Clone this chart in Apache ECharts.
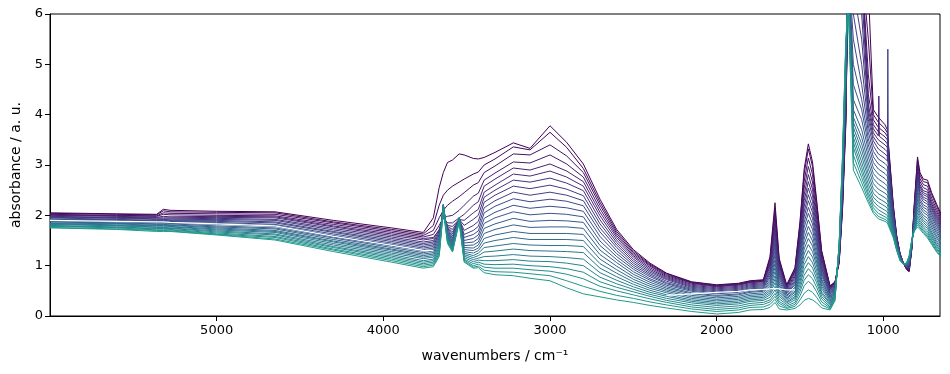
<!DOCTYPE html>
<html><head><meta charset="utf-8">
<script src="https://cdn.jsdelivr.net/npm/echarts@6/dist/echarts.min.js"></script>
<style>html,body{margin:0;padding:0;background:#fff}#c{width:950px;height:374px}</style>
</head><body><div id="c"></div>
<script>
// x positions shared by all spectra (cm^-1)
const wavenumbers = [6000,5600,5360,5320,5280,5000,4650,4300,3950,3760,3700,3665,3640,3615,3585,3545,3515,3460,3430,3395,3330,3220,3120,3000,2900,2800,2700,2600,2500,2400,2300,2150,2000,1870,1800,1720,1680,1650,1625,1580,1530,1500,1475,1450,1425,1400,1370,1320,1290,1265,1245,1225,1210,1180,1130,1090,1060,1030,1027,1024,990,976,973,970,940,920,900,880,860,845,830,815,795,780,760,735,710,680,650];
// one row per wavenumber, one column per spectrum (0 = first / darkest ... 23 = last / teal)
const absorbance = [
[2.05,2.04,2.02,2.01,2.00,1.98,1.97,1.96,1.95,1.93,1.92,1.91,1.89,1.88,1.87,1.85,1.84,1.83,1.82,1.80,1.79,1.78,1.76,1.75],
[2.03,2.02,2.00,1.99,1.98,1.96,1.95,1.94,1.92,1.91,1.90,1.88,1.87,1.85,1.84,1.83,1.81,1.80,1.79,1.77,1.76,1.75,1.73,1.72],
[2.02,2.01,1.99,1.98,1.96,1.95,1.93,1.92,1.90,1.89,1.88,1.86,1.85,1.83,1.82,1.80,1.79,1.77,1.76,1.74,1.73,1.71,1.70,1.68],
[2.12,2.09,2.05,2.02,1.98,1.95,1.93,1.92,1.90,1.89,1.88,1.86,1.85,1.83,1.82,1.80,1.79,1.77,1.76,1.74,1.73,1.71,1.70,1.68],
[2.10,2.07,2.04,2.01,1.97,1.95,1.93,1.91,1.90,1.88,1.87,1.86,1.84,1.83,1.81,1.80,1.78,1.77,1.75,1.74,1.72,1.71,1.69,1.68],
[2.08,2.06,2.03,2.00,1.98,1.96,1.94,1.92,1.90,1.88,1.86,1.84,1.82,1.79,1.77,1.75,1.73,1.71,1.69,1.67,1.65,1.63,1.62,1.61],
[2.07,2.05,2.02,1.99,1.97,1.95,1.92,1.90,1.87,1.85,1.82,1.80,1.78,1.75,1.73,1.70,1.68,1.66,1.63,1.61,1.58,1.56,1.53,1.51],
[1.90,1.87,1.85,1.82,1.79,1.77,1.74,1.71,1.68,1.66,1.63,1.60,1.57,1.55,1.52,1.49,1.47,1.44,1.41,1.38,1.36,1.33,1.31,1.28],
[1.75,1.72,1.69,1.66,1.63,1.60,1.57,1.54,1.51,1.48,1.45,1.42,1.39,1.36,1.33,1.31,1.28,1.25,1.22,1.19,1.16,1.13,1.10,1.07],
[1.66,1.63,1.60,1.57,1.54,1.51,1.47,1.44,1.41,1.38,1.35,1.32,1.29,1.26,1.23,1.20,1.17,1.14,1.10,1.07,1.04,1.01,0.98,0.95],
[1.95,1.80,1.70,1.62,1.56,1.54,1.50,1.47,1.44,1.41,1.38,1.35,1.32,1.29,1.26,1.23,1.20,1.17,1.13,1.10,1.07,1.04,1.01,0.98],
[2.55,2.20,1.95,1.80,1.70,1.72,1.68,1.65,1.62,1.60,1.57,1.54,1.51,1.48,1.45,1.42,1.39,1.36,1.33,1.30,1.27,1.24,1.21,1.18],
[2.85,2.40,2.10,1.95,1.95,2.00,2.02,2.05,2.07,2.10,2.12,2.14,2.16,2.18,2.20,2.21,2.22,2.22,2.21,2.20,2.18,2.15,2.12,2.08],
[3.05,2.50,2.20,1.98,1.85,1.80,1.78,1.76,1.74,1.72,1.70,1.68,1.66,1.64,1.62,1.60,1.58,1.56,1.54,1.52,1.50,1.48,1.46,1.44],
[3.10,2.58,2.28,2.00,1.85,1.78,1.72,1.67,1.63,1.59,1.55,1.52,1.49,1.46,1.43,1.41,1.39,1.37,1.35,1.33,1.31,1.30,1.28,1.27],
[3.22,2.66,2.37,2.10,1.95,1.92,1.92,1.92,1.93,1.93,1.94,1.94,1.95,1.95,1.95,1.95,1.95,1.95,1.94,1.93,1.92,1.90,1.88,1.86],
[3.20,2.72,2.45,2.20,2.02,1.90,1.80,1.70,1.62,1.56,1.50,1.45,1.40,1.36,1.32,1.28,1.25,1.22,1.19,1.16,1.13,1.11,1.09,1.07],
[3.13,2.82,2.60,2.38,2.20,2.05,1.92,1.80,1.70,1.62,1.54,1.47,1.41,1.35,1.30,1.25,1.20,1.16,1.12,1.08,1.04,1.00,0.97,0.95],
[3.12,2.86,2.65,2.44,2.27,2.12,2.00,1.88,1.78,1.69,1.61,1.54,1.47,1.41,1.35,1.30,1.25,1.20,1.15,1.11,1.07,1.03,0.99,0.96],
[3.15,3.00,2.85,2.70,2.58,2.46,2.36,2.26,2.15,2.05,1.94,1.84,1.74,1.64,1.54,1.45,1.36,1.27,1.18,1.10,1.03,0.97,0.91,0.86],
[3.25,3.12,2.98,2.84,2.72,2.60,2.50,2.40,2.29,2.18,2.06,1.95,1.83,1.72,1.61,1.50,1.39,1.29,1.19,1.10,1.02,0.95,0.88,0.82],
[3.44,3.36,3.22,3.06,2.94,2.82,2.70,2.58,2.46,2.33,2.20,2.07,1.94,1.81,1.68,1.56,1.44,1.33,1.22,1.12,1.03,0.95,0.87,0.80],
[3.33,3.30,3.20,3.04,2.90,2.78,2.66,2.53,2.40,2.27,2.14,2.01,1.88,1.76,1.64,1.52,1.41,1.30,1.19,1.09,1.00,0.92,0.84,0.75],
[3.78,3.65,3.40,3.20,3.02,2.88,2.74,2.60,2.46,2.32,2.18,2.04,1.90,1.77,1.64,1.52,1.40,1.29,1.18,1.08,0.98,0.89,0.80,0.70],
[3.45,3.35,3.18,3.02,2.88,2.76,2.64,2.52,2.40,2.28,2.15,2.02,1.89,1.77,1.64,1.52,1.40,1.28,1.16,1.05,0.94,0.83,0.70,0.56],
[3.02,2.93,2.85,2.76,2.67,2.58,2.49,2.39,2.29,2.19,2.08,1.97,1.86,1.74,1.62,1.50,1.38,1.26,1.13,1.00,0.87,0.74,0.59,0.44],
[2.32,2.26,2.20,2.13,2.06,1.99,1.91,1.83,1.75,1.67,1.58,1.49,1.40,1.31,1.22,1.13,1.04,0.95,0.86,0.77,0.68,0.59,0.49,0.38],
[1.72,1.68,1.64,1.60,1.56,1.51,1.46,1.41,1.36,1.30,1.24,1.18,1.12,1.06,0.99,0.92,0.85,0.78,0.71,0.64,0.57,0.50,0.41,0.32],
[1.32,1.29,1.26,1.23,1.20,1.17,1.13,1.09,1.05,1.01,0.97,0.93,0.88,0.83,0.78,0.73,0.68,0.63,0.58,0.53,0.48,0.42,0.35,0.27],
[1.05,1.03,1.01,0.99,0.96,0.93,0.90,0.87,0.84,0.81,0.78,0.74,0.71,0.67,0.63,0.59,0.55,0.51,0.47,0.43,0.39,0.34,0.28,0.21],
[0.85,0.84,0.82,0.80,0.78,0.76,0.74,0.72,0.69,0.66,0.64,0.61,0.58,0.55,0.52,0.49,0.46,0.42,0.39,0.35,0.31,0.27,0.22,0.16],
[0.68,0.67,0.66,0.65,0.63,0.61,0.59,0.57,0.55,0.53,0.51,0.49,0.46,0.44,0.41,0.38,0.35,0.32,0.29,0.26,0.22,0.18,0.14,0.09],
[0.62,0.61,0.60,0.59,0.58,0.56,0.54,0.52,0.50,0.48,0.46,0.44,0.41,0.39,0.36,0.33,0.30,0.27,0.24,0.21,0.17,0.13,0.09,0.04],
[0.65,0.64,0.63,0.62,0.61,0.59,0.57,0.55,0.53,0.51,0.49,0.47,0.44,0.42,0.39,0.36,0.33,0.30,0.27,0.24,0.20,0.16,0.12,0.07],
[0.70,0.69,0.68,0.67,0.66,0.64,0.62,0.60,0.58,0.56,0.54,0.52,0.49,0.47,0.44,0.41,0.38,0.35,0.32,0.29,0.25,0.21,0.17,0.12],
[0.72,0.71,0.70,0.69,0.68,0.66,0.64,0.62,0.60,0.58,0.56,0.54,0.51,0.49,0.46,0.43,0.40,0.37,0.34,0.31,0.27,0.23,0.18,0.13],
[1.18,1.14,1.09,1.05,1.01,0.97,0.92,0.88,0.84,0.80,0.76,0.71,0.67,0.63,0.59,0.54,0.50,0.46,0.42,0.37,0.32,0.28,0.23,0.17],
[2.25,2.13,2.00,1.89,1.78,1.68,1.58,1.48,1.39,1.30,1.21,1.12,1.04,0.96,0.88,0.80,0.73,0.66,0.59,0.52,0.45,0.39,0.33,0.27],
[1.15,1.11,1.06,1.02,0.98,0.94,0.89,0.85,0.81,0.77,0.73,0.68,0.64,0.60,0.56,0.51,0.47,0.43,0.39,0.34,0.29,0.25,0.20,0.14],
[0.62,0.61,0.60,0.59,0.58,0.56,0.54,0.52,0.50,0.48,0.46,0.44,0.41,0.39,0.36,0.34,0.31,0.28,0.26,0.23,0.20,0.17,0.15,0.12],
[0.96,0.94,0.90,0.88,0.85,0.81,0.78,0.75,0.71,0.68,0.65,0.62,0.57,0.54,0.50,0.47,0.43,0.39,0.36,0.32,0.27,0.23,0.19,0.15],
[1.88,1.83,1.74,1.66,1.58,1.51,1.44,1.37,1.31,1.24,1.17,1.10,1.03,0.96,0.89,0.83,0.76,0.69,0.62,0.55,0.48,0.40,0.32,0.22],
[2.92,2.83,2.68,2.54,2.41,2.29,2.18,2.07,1.97,1.86,1.76,1.65,1.53,1.43,1.33,1.23,1.12,1.02,0.92,0.81,0.71,0.60,0.45,0.31],
[3.42,3.32,3.14,2.97,2.81,2.67,2.54,2.41,2.29,2.16,2.04,1.91,1.78,1.66,1.54,1.42,1.30,1.18,1.06,0.94,0.82,0.69,0.52,0.35],
[3.06,2.97,2.81,2.66,2.52,2.40,2.28,2.16,2.06,1.94,1.83,1.72,1.60,1.49,1.39,1.28,1.17,1.06,0.96,0.85,0.74,0.62,0.47,0.32],
[2.30,2.24,2.12,2.02,1.92,1.83,1.74,1.65,1.57,1.49,1.41,1.32,1.23,1.15,1.07,0.99,0.90,0.82,0.74,0.66,0.57,0.48,0.37,0.26],
[1.30,1.27,1.22,1.17,1.12,1.07,1.02,0.97,0.93,0.88,0.84,0.79,0.73,0.69,0.64,0.59,0.54,0.48,0.44,0.39,0.34,0.28,0.22,0.16],
[0.60,0.59,0.58,0.57,0.56,0.54,0.52,0.50,0.48,0.46,0.44,0.42,0.39,0.37,0.34,0.32,0.29,0.26,0.24,0.21,0.18,0.16,0.14,0.12],
[0.68,0.67,0.66,0.65,0.64,0.63,0.62,0.61,0.60,0.58,0.57,0.55,0.53,0.51,0.49,0.47,0.45,0.43,0.41,0.39,0.37,0.35,0.33,0.30],
[1.05,1.07,1.08,1.10,1.12,1.14,1.15,1.17,1.19,1.21,1.22,1.24,1.26,1.28,1.29,1.31,1.33,1.35,1.36,1.38,1.40,1.42,1.43,1.45],
[2.10,2.15,2.20,2.24,2.29,2.34,2.39,2.43,2.48,2.53,2.58,2.62,2.67,2.72,2.77,2.81,2.86,2.91,2.96,3.01,3.05,3.10,3.15,3.20],
[3.80,3.88,3.95,4.02,4.10,4.18,4.25,4.33,4.40,4.48,4.55,4.62,4.70,4.78,4.85,4.92,5.00,5.08,5.15,5.22,5.30,5.38,5.45,5.50],
[7.0,7.0,7.0,7.0,7.0,7.0,7.0,7.0,7.0,7.0,7.0,7.0,7.0,7.0,7.0,7.0,6.8,6.6,6.5,6.4,6.3,6.3,6.2,6.2],
[7.0,7.0,7.0,7.0,7.0,7.0,6.8,6.5,6.0,5.5,5.0,4.6,4.3,4.1,3.95,3.85,3.75,3.65,3.55,3.45,3.35,3.2,3.05,2.9],
[7.0,7.0,7.0,7.0,7.0,6.5,6.0,5.5,5.0,4.6,4.3,4.1,3.9,3.7,3.55,3.42,3.3,3.18,3.06,2.95,2.85,2.75,2.65,2.55],
[6.5,5.5,4.8,4.4,4.2,4.1,4.0,3.9,3.78,3.65,3.52,3.4,3.28,3.16,3.04,2.93,2.82,2.72,2.62,2.53,2.45,2.38,2.31,2.25],
[4.10,4.00,3.90,3.80,3.72,3.64,3.56,3.48,3.38,3.27,3.16,3.05,2.94,2.83,2.73,2.63,2.53,2.44,2.36,2.28,2.21,2.15,2.09,2.04],
[3.95,3.85,3.75,3.66,3.58,3.50,3.41,3.32,3.22,3.12,3.02,2.92,2.82,2.72,2.62,2.52,2.43,2.34,2.26,2.18,2.11,2.04,1.98,1.93],
[3.95,3.85,3.75,3.66,4.37,3.50,3.41,3.32,3.22,3.12,3.02,2.92,2.82,2.72,2.62,2.52,2.43,2.34,2.26,2.18,2.11,2.04,1.98,1.93],
[3.94,3.84,3.74,3.65,3.57,3.49,3.40,3.31,3.21,3.11,3.01,2.91,2.81,2.71,2.61,2.51,2.42,2.33,2.25,2.17,2.10,2.03,1.97,1.92],
[3.80,3.72,3.64,3.56,3.48,3.40,3.31,3.22,3.13,3.03,2.93,2.83,2.73,2.63,2.53,2.44,2.35,2.26,2.18,2.10,2.03,1.97,1.92,1.88],
[3.70,3.64,3.57,3.50,3.42,3.35,3.26,3.17,3.08,2.98,2.88,2.78,2.68,2.58,2.49,2.40,2.31,2.22,2.14,2.07,2.00,1.94,1.89,1.85],
[3.70,3.64,3.57,3.50,3.42,3.35,3.26,3.17,5.30,2.98,2.88,2.78,2.68,2.58,2.49,2.40,2.31,2.22,2.14,2.07,2.00,1.94,1.89,1.85],
[3.68,3.62,3.55,3.48,3.40,3.33,3.24,3.15,3.06,2.96,2.86,2.76,2.66,2.56,2.47,2.38,2.29,2.20,2.12,2.05,1.98,1.92,1.87,1.83],
[2.20,2.17,2.14,2.11,2.08,2.05,2.03,2.00,1.97,1.94,1.91,1.88,1.85,1.82,1.79,1.76,1.73,1.70,1.67,1.64,1.61,1.59,1.57,1.55],
[1.60,1.59,1.57,1.56,1.55,1.53,1.52,1.51,1.49,1.48,1.47,1.46,1.44,1.43,1.42,1.40,1.39,1.38,1.36,1.35,1.34,1.32,1.31,1.30],
[1.25,1.24,1.24,1.23,1.22,1.22,1.21,1.21,1.20,1.19,1.19,1.18,1.17,1.17,1.16,1.15,1.15,1.14,1.13,1.13,1.12,1.11,1.11,1.10],
[1.05,1.05,1.05,1.05,1.05,1.05,1.04,1.04,1.04,1.04,1.04,1.04,1.04,1.04,1.04,1.04,1.03,1.03,1.03,1.03,1.03,1.03,1.03,1.03],
[0.92,0.93,0.93,0.94,0.94,0.95,0.96,0.96,0.97,0.97,0.98,0.99,0.99,1.00,1.00,1.01,1.02,1.02,1.03,1.03,1.04,1.05,1.05,1.06],
[0.88,0.89,0.91,0.92,0.94,0.95,0.96,0.98,0.99,1.01,1.02,1.03,1.05,1.06,1.08,1.09,1.10,1.12,1.13,1.15,1.16,1.17,1.19,1.20],
[1.30,1.31,1.32,1.33,1.33,1.34,1.35,1.36,1.37,1.38,1.39,1.40,1.40,1.41,1.42,1.43,1.44,1.45,1.46,1.47,1.47,1.48,1.49,1.50],
[2.20,2.16,2.12,2.08,2.05,2.02,1.99,1.96,1.93,1.90,1.88,1.86,1.84,1.82,1.80,1.78,1.76,1.75,1.74,1.72,1.71,1.70,1.69,1.68],
[3.16,3.10,3.01,2.94,2.86,2.81,2.76,2.70,2.64,2.58,2.51,2.44,2.37,2.31,2.24,2.17,2.11,2.05,1.99,1.94,1.89,1.85,1.81,1.77],
[2.85,2.80,2.73,2.67,2.61,2.57,2.52,2.47,2.43,2.38,2.32,2.27,2.21,2.16,2.10,2.05,2.00,1.95,1.90,1.86,1.82,1.78,1.75,1.72],
[2.72,2.67,2.61,2.55,2.49,2.45,2.41,2.36,2.32,2.27,2.21,2.16,2.11,2.06,2.00,1.95,1.90,1.86,1.81,1.77,1.73,1.70,1.67,1.64],
[2.70,2.65,2.58,2.51,2.46,2.41,2.37,2.32,2.27,2.22,2.16,2.11,2.05,2.00,1.94,1.88,1.83,1.78,1.74,1.69,1.65,1.61,1.58,1.55],
[2.45,2.41,2.34,2.28,2.23,2.19,2.15,2.11,2.06,2.02,1.97,1.92,1.87,1.82,1.77,1.72,1.67,1.63,1.59,1.55,1.51,1.48,1.45,1.42],
[2.22,2.18,2.12,2.07,2.02,1.98,1.94,1.90,1.86,1.82,1.78,1.73,1.68,1.64,1.59,1.55,1.50,1.46,1.42,1.39,1.35,1.32,1.29,1.27],
[2.00,1.96,1.91,1.86,1.82,1.79,1.75,1.72,1.68,1.64,1.60,1.56,1.52,1.48,1.43,1.40,1.36,1.32,1.29,1.25,1.22,1.20,1.17,1.15]
];
// the white trace visible through the bundle (two visible stretches)
const whiteWavenumbersA = [6000,5600,5360,5320,5280,5000,4650,4300,3950,3760,3700];
const whiteValuesA = [1.90,1.88,1.87,1.87,1.86,1.83,1.79,1.585,1.405,1.305,1.30];
const whiteWavenumbersB = [2300,2150,2000,1870,1800,1720,1680,1650,1625,1580,1530];
const whiteValuesB = [0.41,0.44,0.47,0.49,0.52,0.53,0.54,0.55,0.54,0.52,0.52];
const xTickValues = [5000,4000,3000,2000,1000];
const xRange = [660, 6000];
const yRange = [0, 6];

const viridisStops = ['#440154','#482475','#414487','#355f8d','#2a788e','#21918c','#22a884','#44bf70','#7ad151','#bddf26','#fde725'];
function hexToRgb(h){return [parseInt(h.slice(1,3),16),parseInt(h.slice(3,5),16),parseInt(h.slice(5,7),16)];}
function viridis(t){
  const n = viridisStops.length - 1;
  const x = Math.max(0, Math.min(1, t)) * n;
  const i = Math.min(Math.floor(x), n - 1);
  const f = x - i;
  const a = hexToRgb(viridisStops[i]), b = hexToRgb(viridisStops[i+1]);
  const c = a.map((v,k)=>Math.round(v + (b[k]-v)*f));
  return 'rgb(' + c.join(',') + ')';
}

const nSpectra = absorbance[0].length;
const series = [];
for (let j = 0; j < nSpectra; j++) {
  series.push({
    type: 'line', symbol: 'none', showSymbol: false, silent: true, clip: true,
    animation: false,
    lineStyle: {width: 1, color: viridis(0.54 * j / (nSpectra - 1))},
    data: wavenumbers.map((w, i) => [w, absorbance[i][j]])
  });
}
[[whiteWavenumbersA, whiteValuesA], [whiteWavenumbersB, whiteValuesB]].forEach(([ws, vs]) => {
  series.push({
    type: 'line', symbol: 'none', showSymbol: false, silent: true, clip: true,
    animation: false,
    lineStyle: {width: 1.2, color: '#ffffff'},
    data: ws.map((w, i) => [w, vs[i]])
  });
});

const font = 'DejaVu Sans';
const chart = echarts.init(document.getElementById('c'), null, {renderer: 'canvas'});
chart.setOption({
  backgroundColor: '#ffffff',
  animation: false,
  grid: {left: 50, right: 10, top: 14, bottom: 58, show: true, borderColor: '#000', borderWidth: 1, backgroundColor: 'transparent'},
  xAxis: {
    type: 'value', inverse: true, min: xRange[0], max: xRange[1],
    name: 'wavenumbers / cm⁻¹', nameLocation: 'middle', nameGap: 33,
    nameTextStyle: {fontFamily: font, fontSize: 14, color: '#000'},
    axisLine: {show: true, onZero: false, lineStyle: {color: '#000', width: 1}},
    axisTick: {show: true, inside: false, length: 5, customValues: xTickValues, lineStyle: {color: '#000'}},
    axisLabel: {show: true, margin: 8, customValues: xTickValues, fontFamily: font, fontSize: 13, color: '#000', formatter: v => String(v)},
    splitLine: {show: false}
  },
  yAxis: {
    type: 'value', min: yRange[0], max: yRange[1], interval: 1,
    name: 'absorbance / a. u.', nameLocation: 'middle', nameGap: 26, nameRotate: 90,
    nameTextStyle: {fontFamily: font, fontSize: 14, color: '#000'},
    axisLine: {show: true, lineStyle: {color: '#000', width: 1}},
    axisTick: {show: true, inside: false, length: 5, lineStyle: {color: '#000'}},
    axisLabel: {show: true, margin: 7, fontFamily: font, fontSize: 13, color: '#000', formatter: v => String(v)},
    splitLine: {show: false}
  },
  series: series
});
</script>
</body></html>
